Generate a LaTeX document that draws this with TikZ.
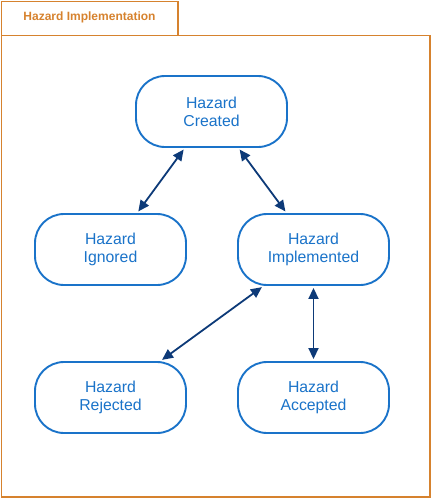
\documentclass[tikz,border=0pt]{standalone}
\usepackage{fontspec}
\setmainfont{Liberation Sans}
\usetikzlibrary{arrows.meta}
\definecolor{frameorange}{HTML}{D6822E}
\definecolor{boxblue}{HTML}{1A73C9}
\definecolor{arrownavy}{HTML}{0D3A78}
\tikzset{
  state/.style={draw=boxblue, line width=1.9pt, rounded corners=29pt,
    minimum width=151pt, minimum height=71pt, inner sep=0pt, fill=white,
    text=boxblue, align=center, font=\fontsize{15.8}{17.8}\selectfont},
  link/.style={draw=arrownavy, line width=1.8pt,
    {Triangle[length=11pt,width=10pt]}-{Triangle[length=11pt,width=10pt]},
    shorten <=2pt, shorten >=2pt},
  frame/.style={draw=frameorange, line width=1.2pt}
}
\begin{document}
\begin{tikzpicture}[x=1pt,y=-1pt]
\useasboundingbox (0,0) rectangle (431,498);
\draw[frame] (1.5,35.5) rectangle (430,497);
\draw[frame] (1.5,35.5) -- (1.5,1.5) -- (178,1.5) -- (178,35.5);
\node[text=frameorange, font=\bfseries\fontsize{12}{14}\selectfont] (title) at (89.5,17.5) {Hazard Implementation};
\node[state] (created) at (211.5,111.5) {Hazard\\Created};
\node[state] (ignored) at (110.5,249.5) {Hazard\\Ignored};
\node[state] (impl) at (313.5,249.5) {Hazard\\Implemented};
\node[state] (rejected) at (110.5,397.5) {Hazard\\Rejected};
\node[state] (accepted) at (313.5,397.5) {Hazard\\Accepted};
\draw[link] (created) -- (ignored);
\draw[link] (created) -- (impl);
\draw[link] (impl) -- (rejected);
\draw[link] (impl) -- (accepted);
\end{tikzpicture}
\end{document}
